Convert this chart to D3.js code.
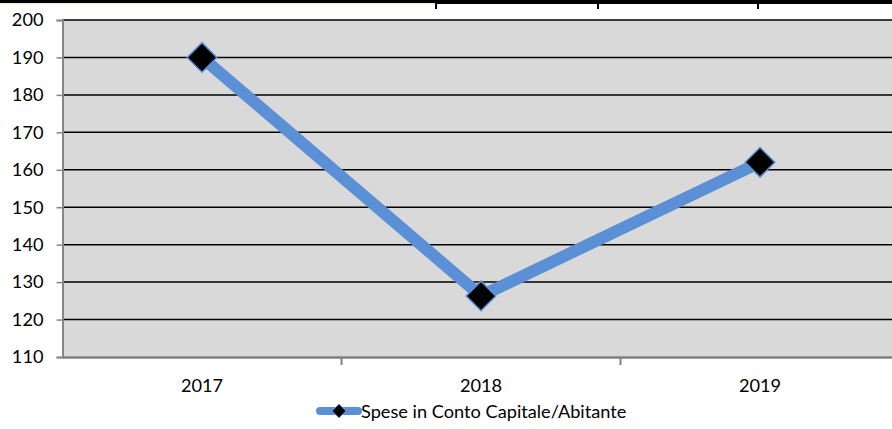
<!DOCTYPE html>
<html>
<head>
<meta charset="utf-8">
<script src="https://cdn.jsdelivr.net/npm/d3@7"></script>
<style>
  html, body { margin: 0; padding: 0; background: #fff; }
  svg { display: block; font-family: Lato, "Open Sans", "Liberation Sans", sans-serif; }
</style>
</head>
<body>
<div id="chart"></div>
<script>
// Spese in conto capitale per abitante, 2017-2019
const years = ["2017", "2018", "2019"];
const spesePerAbitante = [190, 126.3, 162];
const yTicks = [110, 120, 130, 140, 150, 160, 170, 180, 190, 200];
const seriesName = "Spese in Conto Capitale/Abitante";

const W = 892, H = 429;
const plot = { left: 62.5, right: 899.5, top: 20, bottom: 357 };
const FONT = 'Lato, "Open Sans", "Liberation Sans", sans-serif';
const FS = 18.2;

const svg = d3.select("#chart").append("svg")
  .attr("width", W).attr("height", H);

// header rule across the top of the page
svg.append("rect").attr("x", 0).attr("y", 0).attr("width", W).attr("height", 3).attr("fill", "#000");
svg.append("rect").attr("x", 0).attr("y", 3).attr("width", 435).attr("height", 1).attr("fill", "#f0f0b0");
svg.append("rect").attr("x", 435).attr("y", 3).attr("width", W - 435).attr("height", 1).attr("fill", "#000");
[435, 597, 757].forEach(x => {
  svg.append("rect").attr("x", x).attr("y", 0).attr("width", 2).attr("height", 9).attr("fill", "#000");
});

const x = d3.scaleBand().domain(years).range([plot.left, plot.right]);
const y = d3.scaleLinear().domain([110, 200]).range([plot.bottom, plot.top]);

// plot background
svg.append("rect")
  .attr("x", plot.left).attr("y", plot.top)
  .attr("width", plot.right - plot.left).attr("height", plot.bottom - plot.top)
  .attr("fill", "#d9d9d9");

// horizontal gridlines
svg.append("g").selectAll("line").data(yTicks.filter(t => t > 110)).join("line")
  .attr("x1", plot.left).attr("x2", plot.right)
  .attr("y1", d => y(d)).attr("y2", d => y(d))
  .attr("stroke", "#000").attr("stroke-width", 1.5);

// y axis
const yAxis = svg.append("g").attr("transform", `translate(${plot.left},0)`)
  .call(d3.axisLeft(y).tickValues(yTicks).tickSize(6).tickPadding(13));
yAxis.select(".domain").attr("stroke", "#868686").attr("stroke-width", 2);
yAxis.selectAll(".tick line").attr("stroke", "#868686").attr("stroke-width", 1.5);
yAxis.selectAll("text").attr("font-size", FS).attr("fill", "#000")
  .attr("font-family", FONT);

// x axis
const xAxis = svg.append("g").attr("transform", `translate(0,${plot.bottom})`)
  .call(d3.axisBottom(x).tickSize(0).tickPadding(22));
xAxis.select(".domain").attr("stroke", "#808080").attr("stroke-width", 2.5);
xAxis.selectAll("text").attr("font-size", FS).attr("fill", "#000")
  .attr("font-family", FONT);
xAxis.selectAll(".boundary").data(years.slice(1)).join("line")
  .attr("class", "boundary")
  .attr("x1", d => x(d)).attr("x2", d => x(d))
  .attr("y1", 0).attr("y2", 8)
  .attr("stroke", "#808080").attr("stroke-width", 2);

// series line
const lineColor = "#5b8fd6";
const pts = years.map((yr, i) => [x(yr) + x.bandwidth() / 2, y(spesePerAbitante[i])]);
svg.append("path")
  .attr("d", d3.line()(pts))
  .attr("fill", "none").attr("stroke", lineColor)
  .attr("stroke-width", 12).attr("stroke-linejoin", "miter");

const diamond = d3.symbol().type(d3.symbolDiamond2).size(560);
svg.append("g").selectAll("path").data(pts).join("path")
  .attr("transform", d => `translate(${d[0]},${d[1]})`)
  .attr("d", diamond)
  .attr("fill", "#000").attr("stroke", lineColor).attr("stroke-width", 1.5);

// legend
const lg = svg.append("g").attr("transform", "translate(0,411)");
lg.append("line").attr("x1", 320).attr("x2", 358).attr("y1", 0).attr("y2", 0)
  .attr("stroke", lineColor).attr("stroke-width", 8).attr("stroke-linecap", "round");
lg.append("path").attr("transform", "translate(339,0)")
  .attr("d", d3.symbol().type(d3.symbolDiamond2).size(120))
  .attr("fill", "#000").attr("stroke", lineColor).attr("stroke-width", 1);
lg.append("text").attr("x", 361).attr("y", 7)
  .attr("font-size", FS).attr("fill", "#000").attr("font-family", FONT)
  .text(seriesName);
</script>
</body>
</html>
